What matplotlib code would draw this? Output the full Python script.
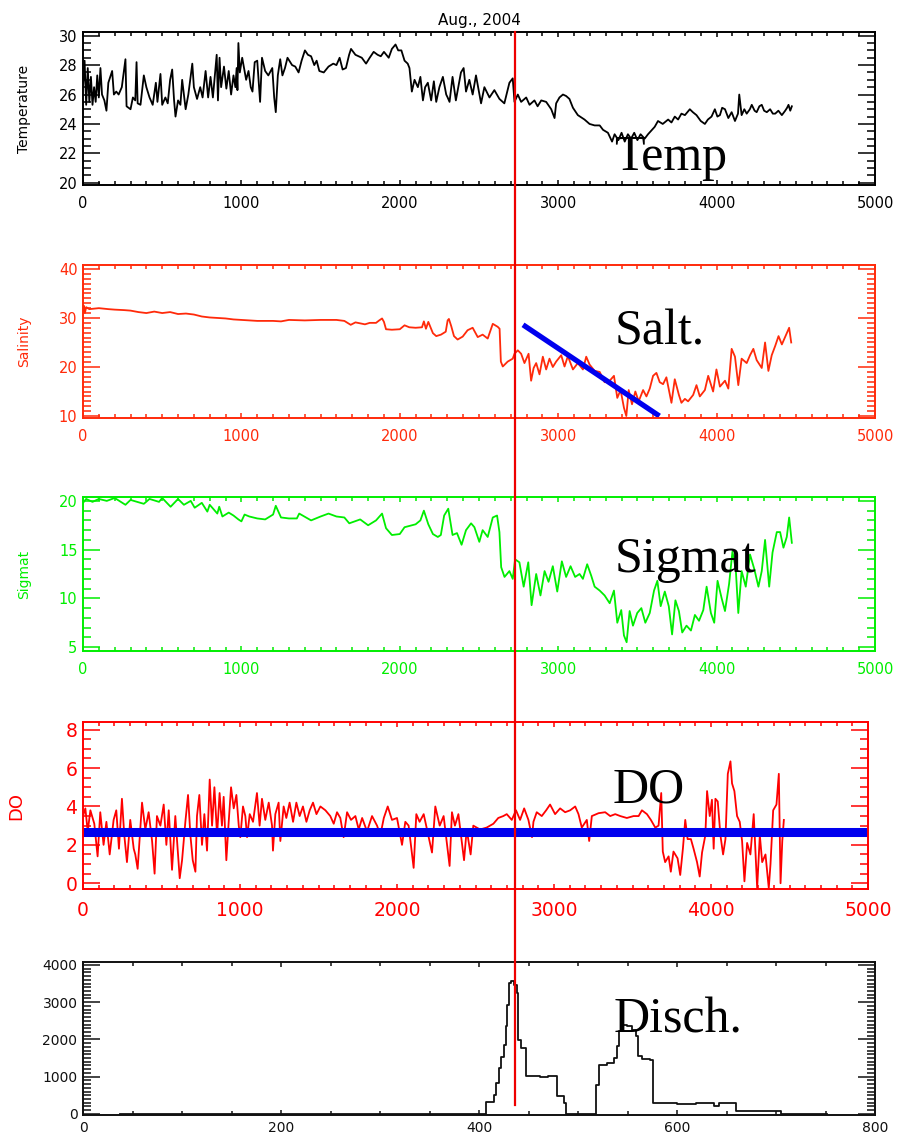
import matplotlib
matplotlib.use("Agg")
import matplotlib.pyplot as plt
from matplotlib.lines import Line2D
from matplotlib.ticker import MultipleLocator

# ---------------------------------------------------------------------------
# Hourly sensor records, August 2004 (record index, value)
# ---------------------------------------------------------------------------
temp_t = [0, 10, 20, 30, 40, 50, 60, 70, 80, 90, 100, 110, 120, 135, 148, 160, 184, 195,
          210, 225, 245, 268, 275, 300, 315, 330, 338, 345, 363, 384, 400, 420, 440, 460,
          470, 489, 500, 520, 535, 550, 563, 575, 584, 600, 615, 626, 648, 665, 690, 700,
          720, 740, 755, 774, 790, 805, 820, 844, 852, 862, 872, 890, 905, 920, 935, 950,
          962, 970, 975, 981, 990, 1005, 1030, 1045, 1059, 1070, 1084, 1100, 1118, 1130,
          1150, 1170, 1195, 1207, 1217, 1230, 1245, 1259, 1275, 1291, 1320, 1340, 1361,
          1380, 1401, 1420, 1440, 1460, 1475, 1492, 1520, 1550, 1580, 1600, 1620, 1639,
          1660, 1680, 1692, 1720, 1760, 1787, 1810, 1835, 1860, 1880, 1900, 1930, 1950,
          1973, 1990, 2010, 2030, 2050, 2061, 2076, 2093, 2114, 2130, 2146, 2160, 2177,
          2198, 2215, 2230, 2250, 2272, 2293, 2302, 2314, 2333, 2354, 2386, 2403, 2418,
          2439, 2460, 2481, 2513, 2534, 2566, 2597, 2629, 2660, 2692, 2713, 2724, 2745,
          2766, 2798, 2819, 2850, 2870, 2893, 2924, 2956, 2977, 2987, 3008, 3030, 3050,
          3071, 3093, 3124, 3166, 3198, 3230, 3262, 3283, 3314, 3340, 3356, 3380, 3400,
          3420, 3440, 3460, 3480, 3500, 3520, 3546, 3567, 3609, 3630, 3660, 3694, 3715,
          3736, 3757, 3778, 3800, 3831, 3850, 3873, 3900, 3926, 3945, 3968, 3989, 4005,
          4021, 4035, 4053, 4074, 4095, 4116, 4135, 4143, 4158, 4175, 4190, 4210, 4222,
          4240, 4253, 4270, 4285, 4300, 4317, 4338, 4355, 4370, 4390, 4412, 4433, 4445,
          4454, 4465, 4475]
temp_v = [26.5, 28.3, 25.3, 27.8, 25.5, 27.2, 25.3, 26.5, 25.5, 27.3, 25.8, 27.8, 26.0, 25.6,
          24.9, 26.8, 27.6, 26.0, 26.2, 26.0, 26.5, 28.4, 25.2, 25.0, 25.8, 25.6, 28.2, 25.4,
          25.3, 27.3, 26.5, 25.8, 25.3, 26.8, 25.5, 27.4, 25.3, 25.8, 25.4, 27.0, 27.7, 25.6,
          24.5, 25.6, 25.3, 27.0, 25.0, 26.0, 28.1, 26.5, 25.7, 26.5, 25.8, 27.6, 25.8, 27.2,
          25.8, 28.7, 25.6, 28.5, 26.5, 27.9, 26.4, 27.6, 26.0, 27.3, 26.5, 27.8, 26.3, 29.5,
          27.5, 28.5, 27.0, 27.6, 26.5, 26.2, 28.2, 28.3, 25.5, 28.5, 27.6, 27.3, 27.8, 25.8,
          24.8, 27.3, 28.4, 27.3, 27.8, 28.5, 28.0, 27.9, 27.5, 28.3, 29.0, 28.7, 28.6, 28.0,
          28.3, 27.6, 27.5, 27.9, 28.1, 28.0, 28.5, 27.7, 27.8, 28.7, 29.1, 28.7, 28.5, 28.1,
          28.5, 28.9, 28.7, 28.6, 28.9, 28.5, 29.1, 29.4, 29.0, 29.0, 28.3, 28.1, 27.8, 26.2,
          27.0, 26.5, 27.2, 25.6, 26.5, 26.8, 25.6, 26.9, 25.5, 26.5, 27.2, 26.0, 25.8, 25.5,
          27.2, 25.6, 27.5, 27.8, 26.2, 27.0, 26.0, 27.3, 25.4, 26.5, 25.8, 26.3, 25.7, 25.4,
          26.8, 27.1, 25.5, 26.0, 25.5, 25.8, 25.3, 25.6, 25.2, 25.6, 25.5, 25.0, 24.4, 25.4,
          25.8, 26.0, 25.9, 25.7, 25.1, 24.6, 24.3, 24.0, 23.9, 23.9, 23.6, 23.4, 22.8, 23.3,
          22.9, 23.4, 22.8, 23.3, 23.0, 23.4, 22.9, 23.3, 23.0, 23.3, 23.8, 24.2, 24.0, 24.3,
          24.1, 24.5, 24.3, 24.7, 24.6, 25.0, 24.8, 24.6, 24.2, 24.0, 24.3, 24.5, 25.0, 24.5,
          24.6, 25.1, 25.0, 24.4, 24.8, 24.2, 24.7, 26.0, 24.6, 25.0, 24.7, 25.0, 25.3, 24.9,
          24.8, 25.2, 25.3, 24.9, 24.8, 25.0, 24.7, 24.7, 24.9, 24.6, 24.9, 25.1, 25.3, 24.9,
          25.2]

salt_t = [0, 5, 12, 20, 40, 100, 160, 200, 260, 300, 350, 400, 450, 500, 550, 600, 650, 700,
          750, 800, 850, 900, 950, 1000, 1100, 1200, 1250, 1300, 1400, 1500, 1600, 1650, 1690,
          1720, 1750, 1780, 1810, 1850, 1870, 1888, 1900, 1913, 1950, 2000, 2030, 2060, 2100,
          2140, 2152, 2165, 2180, 2195, 2209, 2230, 2260, 2290, 2302, 2310, 2325, 2342, 2365,
          2397, 2428, 2460, 2492, 2523, 2555, 2587, 2618, 2630, 2638, 2650, 2681, 2713, 2724,
          2745, 2766, 2787, 2813, 2829, 2845, 2861, 2882, 2903, 2924, 2945, 2966, 2987, 3019,
          3040, 3061, 3093, 3124, 3156, 3177, 3198, 3230, 3262, 3293, 3325, 3352, 3373, 3394,
          3415, 3430, 3445, 3466, 3487, 3508, 3536, 3557, 3578, 3599, 3620, 3641, 3662, 3683,
          3715, 3736, 3762, 3778, 3800, 3820, 3852, 3873, 3894, 3926, 3947, 3978, 3999, 4021,
          4053, 4074, 4095, 4116, 4137, 4158, 4190, 4211, 4232, 4253, 4285, 4306, 4327, 4348,
          4370, 4391, 4412, 4443, 4458, 4471]
salt_v = [31.5, 32.5, 31.0, 32.2, 31.8, 32.0, 31.8, 31.7, 31.6, 31.5, 31.2, 31.0, 31.3, 31.0,
          31.2, 30.8, 30.9, 30.7, 30.3, 30.1, 30.0, 29.9, 29.7, 29.6, 29.4, 29.4, 29.3, 29.6,
          29.5, 29.6, 29.6, 29.4, 28.6, 29.1, 28.9, 28.7, 29.0, 29.0, 29.5, 29.9, 29.2, 27.7,
          27.6, 27.7, 28.5, 28.1, 28.0, 28.1, 29.3, 27.8, 29.2, 28.0, 26.9, 26.3, 26.6, 27.2,
          29.5, 29.8, 28.3, 26.3, 25.6, 26.2, 27.5, 28.0, 26.1, 26.6, 25.8, 28.8, 28.2, 27.8,
          21.1, 20.1, 21.1, 21.7, 22.7, 23.4, 22.7, 20.8, 22.7, 17.2, 19.8, 20.8, 18.5, 22.1,
          19.5, 21.7, 20.0, 21.1, 22.4, 20.1, 22.2, 19.5, 20.8, 19.5, 22.1, 20.5, 19.2, 19.0,
          16.9, 17.2, 18.2, 13.7, 15.3, 11.7, 10.0, 15.3, 12.4, 15.0, 13.0, 15.3, 14.0, 15.6,
          18.2, 18.8, 16.9, 16.5, 17.9, 12.7, 17.5, 14.3, 12.7, 13.5, 13.0, 14.3, 16.3, 14.0,
          15.3, 18.2, 15.0, 19.5, 16.0, 17.2, 15.6, 23.7, 22.1, 16.3, 21.7, 20.8, 22.4, 23.7,
          21.4, 19.8, 25.0, 19.2, 22.4, 24.3, 26.3, 24.6, 26.9, 28.0, 25.0]

sigt_t = [0, 20, 60, 100, 150, 200, 268, 300, 384, 420, 480, 500, 553, 600, 637, 680, 705, 750,
          785, 800, 848, 860, 880, 920, 950, 981, 1000, 1020, 1050, 1100, 1150, 1200, 1217,
          1250, 1300, 1350, 1365, 1440, 1500, 1550, 1600, 1650, 1681, 1750, 1800, 1850, 1888,
          1913, 1950, 2000, 2030, 2100, 2130, 2152, 2180, 2209, 2240, 2259, 2280, 2306, 2333,
          2361, 2390, 2418, 2450, 2471, 2502, 2523, 2555, 2587, 2614, 2629, 2640, 2661, 2692,
          2713, 2728, 2755, 2782, 2811, 2832, 2861, 2888, 2914, 2939, 2966, 2994, 3023, 3050,
          3078, 3107, 3135, 3156, 3183, 3209, 3230, 3262, 3293, 3325, 3352, 3373, 3398, 3415,
          3432, 3451, 3472, 3499, 3525, 3550, 3578, 3605, 3626, 3647, 3673, 3698, 3719, 3740,
          3762, 3783, 3810, 3838, 3863, 3889, 3916, 3937, 3964, 3985, 4006, 4032, 4053, 4079,
          4100, 4121, 4137, 4158, 4184, 4211, 4238, 4264, 4285, 4306, 4332, 4353, 4380, 4401,
          4422, 4443, 4458, 4475]
sigt_v = [19.8, 20.2, 19.9, 20.2, 20.0, 20.3, 19.6, 20.1, 19.7, 20.2, 19.9, 20.3, 19.4, 20.2,
          19.6, 20.0, 19.3, 19.8, 18.9, 19.6, 18.7, 19.4, 18.4, 18.8, 18.5, 18.1, 17.9, 18.6,
          18.4, 18.2, 18.1, 18.6, 19.5, 18.3, 18.2, 18.2, 18.7, 18.0, 18.4, 18.7, 18.4, 18.3,
          17.7, 18.1, 17.5, 18.0, 18.7, 17.2, 16.5, 16.6, 17.3, 17.6, 18.0, 19.0, 17.6, 16.6,
          16.3, 16.5, 18.5, 19.2, 16.5, 16.7, 15.5, 17.0, 17.7, 17.3, 15.8, 17.0, 16.3, 18.3,
          18.5, 16.8, 13.2, 12.2, 12.8, 12.0, 14.0, 13.7, 11.2, 13.7, 9.3, 12.5, 10.3, 12.8,
          11.7, 13.3, 10.7, 13.8, 12.2, 13.3, 12.2, 12.5, 12.0, 13.5, 12.3, 11.2, 10.8, 10.3,
          9.5, 10.8, 7.5, 8.8, 6.2, 5.5, 8.7, 7.2, 8.5, 9.0, 7.5, 8.5, 10.8, 11.8, 9.2, 10.7,
          9.2, 6.3, 9.8, 8.7, 6.5, 7.2, 6.7, 8.3, 7.7, 8.8, 11.2, 8.5, 7.5, 11.8, 10.0, 8.7,
          11.5, 14.8, 13.0, 8.5, 12.8, 11.2, 14.5, 13.0, 11.2, 12.8, 16.0, 11.2, 14.7, 16.8,
          16.8, 15.2, 16.3, 18.3, 15.7]

do_t = [0, 15, 30, 47, 72, 93, 110, 131, 149, 170, 195, 212, 229, 248, 263, 280, 301, 323, 333,
        348, 376, 397, 418, 440, 456, 471, 493, 514, 531, 546, 567, 588, 616, 631, 652, 669,
        684, 699, 716, 726, 741, 758, 773, 790, 807, 822, 837, 854, 870, 885, 896, 913, 928,
        943, 960, 977, 992, 1002, 1019, 1034, 1045, 1062, 1083, 1108, 1125, 1140, 1161, 1183,
        1204, 1210, 1225, 1246, 1257, 1278, 1295, 1316, 1338, 1359, 1380, 1401, 1423, 1444,
        1465, 1487, 1512, 1544, 1575, 1597, 1618, 1639, 1660, 1682, 1707, 1735, 1756, 1778,
        1809, 1841, 1873, 1894, 1916, 1941, 1968, 2000, 2032, 2053, 2074, 2106, 2123, 2144,
        2170, 2191, 2223, 2244, 2272, 2297, 2335, 2350, 2369, 2391, 2427, 2444, 2469, 2486,
        2529, 2571, 2614, 2645, 2677, 2699, 2731, 2758, 2784, 2810, 2837, 2860, 2869, 2890,
        2922, 2950, 2975, 3007, 3039, 3071, 3103, 3135, 3156, 3177, 3209, 3224, 3241, 3284,
        3326, 3358, 3390, 3422, 3464, 3507, 3539, 3560, 3592, 3617, 3645, 3666, 3683, 3693,
        3708, 3730, 3744, 3761, 3787, 3804, 3821, 3836, 3851, 3872, 3889, 3911, 3928, 3943,
        3964, 3975, 3992, 4006, 4017, 4028, 4043, 4060, 4077, 4092, 4107, 4124, 4134, 4149,
        4166, 4183, 4198, 4213, 4230, 4251, 4272, 4294, 4311, 4326, 4347, 4368, 4379, 4396,
        4417, 4432, 4443, 4454, 4464]
do_v = [3.5, 3.9, 2.7, 3.8, 3.1, 1.4, 3.7, 2.0, 3.2, 1.5, 3.3, 3.8, 1.8, 4.4, 2.5, 1.1, 3.3,
        1.8, 1.5, 0.75, 4.2, 2.8, 3.7, 2.2, 0.5, 3.5, 3.0, 4.1, 2.0, 3.8, 0.7, 3.5, 0.26, 1.2,
        3.2, 4.6, 2.5, 1.2, 0.6, 3.5, 4.6, 2.0, 3.6, 1.7, 5.4, 3.0, 5.0, 2.5, 4.7, 3.0, 4.5,
        1.2, 3.2, 5.0, 3.9, 4.6, 3.0, 2.4, 4.0, 3.5, 2.4, 3.6, 3.2, 4.7, 3.0, 4.4, 3.3, 4.2,
        3.0, 1.7, 3.6, 4.2, 2.2, 4.0, 3.4, 4.2, 3.2, 4.2, 3.5, 4.0, 3.2, 3.8, 4.2, 3.6, 4.0,
        3.8, 3.5, 3.1, 3.7, 3.4, 2.4, 3.7, 3.3, 3.5, 2.8, 3.4, 2.7, 3.5, 3.0, 2.5, 3.4, 4.0,
        3.3, 3.4, 2.0, 3.2, 3.0, 0.8, 3.6, 3.2, 3.6, 2.8, 1.6, 4.0, 3.0, 3.5, 0.9, 3.7, 3.0,
        3.6, 1.2, 2.8, 1.5, 3.0, 2.8, 2.9, 3.1, 3.4, 3.5, 3.6, 3.3, 3.8, 3.3, 3.9, 3.3, 2.4,
        3.2, 3.7, 3.5, 3.8, 4.1, 3.6, 3.9, 3.7, 3.8, 4.0, 3.6, 2.9, 3.3, 2.2, 3.5, 3.65, 3.7,
        3.5, 3.6, 3.5, 3.4, 3.5, 3.5, 3.8, 3.6, 3.3, 2.9, 3.0, 4.7, 1.65, 1.1, 1.4, 0.6, 1.65,
        1.3, 0.43, 1.8, 3.3, 2.3, 2.3, 1.8, 1.1, 0.35, 1.6, 2.5, 4.8, 3.5, 4.35, 1.8, 4.4,
        4.26, 2.5, 1.5, 2.3, 5.7, 6.35, 5.2, 4.8, 3.5, 3.2, 2.2, 0.1, 2.1, 1.5, 3.6, -0.25,
        2.5, 1.1, 1.5, -0.25, 1.0, 3.8, 4.1, 5.7, 0.0, 2.2, 3.3]

# River discharge (day index, flow)
q_t = [37, 406.6, 415, 416.8, 420.2, 421.8, 425.2, 426.9, 428.5, 430.2, 432.5, 435.2, 437.9,
       439.3, 442, 447, 462, 470, 478.9, 485.7, 487.4, 517.7, 521, 529.4, 536.2, 538.9, 541.2,
       544.6, 549.6, 554.7, 558.1, 560.4, 565, 573.2, 575.9, 600, 618.7, 630, 637.2, 642.3,
       659.1, 704.6, 706.3, 751.9]
q_v = [0, 313, 518, 830, 1232, 1527, 1857, 2348, 2929, 3509, 3581, 3465, 3241, 1991, 1768,
       1027, 1000, 1009, 473, 295, 9, 786, 1322, 1366, 1500, 1813, 2215, 2393, 2349, 2259,
       2081, 1545, 1480, 1456, 295, 277, 295, 290, 205, 295, 71, 9, 0, 0]

# Reference markers
event_t = 2728          # event time on the hourly axis
event_q = 436           # same event on the discharge axis
salt_trend = ([2778, 3639], [28.6, 10.0])
do_threshold = 2.67

# ---------------------------------------------------------------------------
W, H = 905, 1137
fig = plt.figure(figsize=(W / 100, H / 100), dpi=100)


def box(l, t, r, b):
    return [l / W, 1 - b / H, (r - l) / W, (b - t) / H]


def style(ax, color, xmaj, xmin, ymaj, ymin, size, xpad=8):
    for sp in ax.spines.values():
        sp.set_color(color)
        sp.set_linewidth(1.4)
    ax.xaxis.set_major_locator(MultipleLocator(xmaj))
    ax.xaxis.set_minor_locator(MultipleLocator(xmin))
    ax.yaxis.set_major_locator(MultipleLocator(ymaj))
    ax.yaxis.set_minor_locator(MultipleLocator(ymin))
    ax.tick_params(which="both", direction="in", top=True, right=True,
                   colors=color, labelsize=size, width=1.1)
    ax.tick_params(axis="y", which="major", length=12, pad=4)
    ax.tick_params(axis="y", which="minor", length=6)
    ax.tick_params(axis="x", which="major", length=3.5, pad=xpad)
    ax.tick_params(axis="x", which="minor", length=3)
    for lab in ax.get_xticklabels() + ax.get_yticklabels():
        lab.set_fontfamily("DejaVu Sans")


serif = dict(family="Liberation Serif", fontsize=36, color="black", va="baseline")

# Temperature
ax1 = fig.add_axes(box(83, 32, 875, 185))
ax1.plot(temp_t, temp_v, color="black", lw=1.3)
ax1.set_xlim(0, 5000)
ax1.set_ylim(19.85, 30.25)
style(ax1, "black", 1000, 100, 2, 0.5, 10.5)
ax1.set_ylabel("Temperature", fontsize=10)
ax1.yaxis.set_label_coords(-0.066, 0.5)
ax1.set_title("Aug., 2004", fontsize=11, pad=5)
ax1.text(3354, 20.9, "Temp", **serif)

# Salinity
c_salt = "#ff2a0a"
ax2 = fig.add_axes(box(83, 265, 875, 418))
ax2.plot(salt_t, salt_v, color=c_salt, lw=1.3)
ax2.plot(*salt_trend, color="#0000ee", lw=3.8, solid_capstyle="butt")
ax2.set_xlim(0, 5000)
ax2.set_ylim(9.6, 40.8)
style(ax2, c_salt, 1000, 100, 10, 1, 10.5)
ax2.set_ylabel("Salinity", fontsize=10, color=c_salt)
ax2.yaxis.set_label_coords(-0.066, 0.5)
ax2.text(3354, 24.6, "Salt.", **serif)

# Sigma-t
c_sig = "#00ee00"
ax3 = fig.add_axes(box(83, 497, 875, 651))
ax3.plot(sigt_t, sigt_v, color=c_sig, lw=1.3)
ax3.set_xlim(0, 5000)
ax3.set_ylim(4.6, 20.4)
style(ax3, c_sig, 1000, 100, 5, 1, 10.5)
ax3.set_ylabel("Sigmat", fontsize=10, color=c_sig)
ax3.yaxis.set_label_coords(-0.066, 0.5)
ax3.text(3354, 12.7, "Sigmat", **serif)

# Dissolved oxygen
c_do = "#ff0000"
ax4 = fig.add_axes(box(83, 722, 868, 889))
ax4.plot(do_t, do_v, color=c_do, lw=1.3)
ax4.axhline(do_threshold, xmin=0, xmax=0.998, color="#0000ee", lw=6.5)
ax4.set_xlim(0, 5000)
ax4.set_ylim(-0.3, 8.4)
style(ax4, c_do, 1000, 100, 2, 0.5, 13.5, xpad=9)
ax4.set_ylabel("DO", fontsize=13, color=c_do)
ax4.yaxis.set_label_coords(-0.074, 0.5)
ax4.text(3376, 4.2, "DO", **serif)

# Discharge
c_q = "#111111"
ax5 = fig.add_axes(box(83, 962, 875, 1115))
ax5.plot(q_t, q_v, color=c_q, lw=1.3, drawstyle="steps-post")
ax5.set_xlim(0, 800)
ax5.set_ylim(-30, 4080)
style(ax5, c_q, 200, 50, 1000, 100, 10, xpad=4)
ax5.text(536, 2175, "Disch.", **serif)

# Event marker running through all panels
inv = fig.transFigure.inverted()
x_top = inv.transform(ax1.transData.transform((event_t, 30.25)))
x_bot = inv.transform(ax5.transData.transform((event_q, 240)))
fig.add_artist(Line2D([x_top[0], x_top[0]], [x_top[1], x_bot[1]],
                      transform=fig.transFigure, color="#ee0000", lw=1.6))

fig.savefig("out.png", dpi=100)
